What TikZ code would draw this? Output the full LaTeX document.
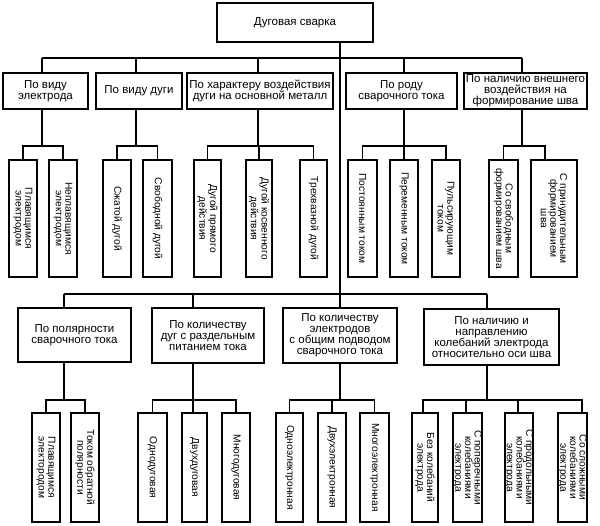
\documentclass[tikz,border=0pt]{standalone}
\usepackage{fontspec}
\setmainfont{Liberation Sans}
\begin{document}
\begin{tikzpicture}[x=1pt,y=-1pt,
  box/.style={draw, line width=1.6pt, inner xsep=0pt, inner ysep=-2pt, align=center,
    font=\fontsize{11.5}{11}\selectfont},
  vbox/.style={box, rotate=-90, inner ysep=-6pt, font=\fontsize{10.2}{9.6}\selectfont},
  conn/.style={line width=1.6pt}]
\useasboundingbox (0,0) rectangle (600,526);
% root
\node[box, minimum width=156pt, minimum height=39pt] (main) at (295,22.5) {Дуговая сварка};
% first level
\node[box, minimum width=85pt, minimum height=36pt] (k1) at (45.5,91) {По виду\\электрода};
\node[box, minimum width=86pt, minimum height=36pt] (k2) at (139,91) {По виду дуги};
\node[box, minimum width=146pt, minimum height=36pt] (k3) at (260,91) {По характеру воздействия\\дуги на основной металл};
\node[box, minimum width=111pt, minimum height=36pt] (k4) at (401.5,91) {По роду\\сварочного тока};
\node[box, minimum width=123pt, minimum height=36pt] (k5) at (525.5,91) {По наличию внешнего\\воздействия на\\формирование шва};
% second level top
\node[vbox, minimum width=117pt, minimum height=28pt] (s1a) at (23,218.5) {Плавящимся\\электродом};
\node[vbox, minimum width=117pt, minimum height=28pt] (s1b) at (63,218.5) {Неплавящимся\\электродом};
\node[vbox, minimum width=117pt, minimum height=28pt] (s2a) at (117,218.5) {Сжатой дугой};
\node[vbox, minimum width=117pt, minimum height=29pt] (s2b) at (157.5,218.5) {Свободной дугой};
\node[vbox, minimum width=117pt, minimum height=27pt] (s3a) at (207.5,218.5) {Дугой прямого\\действия};
\node[vbox, minimum width=117pt, minimum height=26pt] (s3b) at (259,218.5) {Дугой косвенного\\действия};
\node[vbox, minimum width=117pt, minimum height=27pt] (s3c) at (313.5,218.5) {Трехвазной дугой};
\node[vbox, minimum width=117pt, minimum height=29pt] (s4a) at (362.5,218.5) {Постоянным током};
\node[vbox, minimum width=117pt, minimum height=28pt] (s4b) at (404,218.5) {Переменным током};
\node[vbox, minimum width=117pt, minimum height=28pt] (s4c) at (446,218.5) {Пульсирующим\\током};
\node[vbox, minimum width=117pt, minimum height=29pt] (s5a) at (503.5,218.5) {Со свободным\\формированием шва};
\node[vbox, minimum width=117pt, minimum height=46pt] (s5b) at (554,218.5) {С принудительным\\формированием\\шва};
% first level lower
\node[box, minimum width=113pt, minimum height=54pt] (B1) at (74.5,335) {По полярности\\сварочного тока};
\node[box, minimum width=112pt, minimum height=55pt] (B2) at (208,335.5) {По количеству\\дуг с раздельным\\питанием тока};
\node[box, minimum width=114pt, minimum height=55pt] (B3) at (340,335.5) {По количеству\\электродов\\с общим подводом\\сварочного тока};
\node[box, minimum width=135pt, minimum height=56pt] (B4) at (491.5,337) {По наличию и\\направлению\\колебаний электрода\\относительно оси шва};
% second level lower
\node[vbox, minimum width=109pt, minimum height=28pt] (t1a) at (46,467.5) {Плавящимся\\электородом};
\node[vbox, minimum width=109pt, minimum height=28pt] (t1b) at (85,467.5) {Током обратной\\полярности};
\node[vbox, minimum width=109pt, minimum height=29pt] (t2a) at (152.5,467.5) {Однодуговая};
\node[vbox, minimum width=109pt, minimum height=25pt] (t2b) at (194.5,467.5) {Двухдуговая};
\node[vbox, minimum width=109pt, minimum height=28pt] (t2c) at (236,467.5) {Многодуговая};
\node[vbox, minimum width=109pt, minimum height=27pt] (t3a) at (289.5,467.5) {Одноэлектронная};
\node[vbox, minimum width=109pt, minimum height=28pt] (t3b) at (332,467.5) {Двухэлектронная};
\node[vbox, minimum width=109pt, minimum height=29pt] (t3c) at (374.5,467.5) {Многоэлектронная};
\node[vbox, minimum width=109pt, minimum height=26pt] (t4a) at (425,467.5) {Без колебаний\\электрода};
\node[vbox, minimum width=109pt, minimum height=29pt] (t4b) at (467.5,467.5) {С поперечными\\колебаниями\\электрода};
\node[vbox, minimum width=109pt, minimum height=28pt] (t4c) at (519,467.5) {С продольными\\колебаниями\\электрода};
\node[vbox, minimum width=109pt, minimum height=29pt] (t4d) at (572.5,467.5) {Со сложными\\колебаниями\\электрода};
% bus coordinates
\coordinate (bus1) at (0,58);
\coordinate (busS) at (0,146);
\coordinate (bus2) at (0,294);
\coordinate (busT) at (0,400);
% trunk
\draw[conn] (main.south -| B3.north) -- (B3.north);
% top bus
\draw[conn] ([xshift=-3.5pt]k1.north |- bus1) -- ([xshift=-3.5pt]k5.north |- bus1);
\draw[conn] ([xshift=-3.5pt]k1.north) -- ([xshift=-3.5pt]k1.north |- bus1);
\draw[conn] ([xshift=-3pt]k2.north) -- ([xshift=-3pt]k2.north |- bus1);
\draw[conn] ([xshift=-2pt]k3.north) -- ([xshift=-2pt]k3.north |- bus1);
\draw[conn] ([xshift=2.5pt]k4.north) -- ([xshift=2.5pt]k4.north |- bus1);
\draw[conn] ([xshift=-3.5pt]k5.north) -- ([xshift=-3.5pt]k5.north |- bus1);
% group 1
\draw[conn] ([xshift=-3.5pt]k1.south) -- ([xshift=-3.5pt]k1.south |- busS);
\draw[conn] (s1a.west) |- (s1b.west |- busS) -- (s1b.west);
% group 2
\draw[conn] ([xshift=-3pt]k2.south) -- ([xshift=-3pt]k2.south |- busS);
\draw[conn] (s2a.west) |- (s2b.west |- busS) -- (s2b.west);
% group 3
\draw[conn] ([xshift=-2pt]k3.south) -- ([xshift=-2pt]k3.south |- busS);
\draw[conn] (s3a.west) |- (s3c.west |- busS) -- (s3c.west);
\draw[conn] (s3b.west) -- (s3b.west |- busS);
% group 4
\draw[conn] ([xshift=2.5pt]k4.south) -- ([xshift=2.5pt]k4.south |- busS);
\draw[conn] (s4a.west) |- (s4c.west |- busS) -- (s4c.west);
\draw[conn] (s4b.west) -- (s4b.west |- busS);
% group 5
\draw[conn] ([xshift=-3.5pt]k5.south) -- ([xshift=-3.5pt]k5.south |- busS);
\draw[conn] (s5a.west) |- ([xshift=-9pt]s5b.west |- busS) -- ([xshift=-9pt]s5b.west);
% lower bus
\draw[conn] ([xshift=-10.5pt]B1.north |- bus2) -- ([xshift=-4.5pt]B4.north |- bus2);
\draw[conn] ([xshift=-10.5pt]B1.north) -- ([xshift=-10.5pt]B1.north |- bus2);
\draw[conn] ([xshift=-15pt]B2.north) -- ([xshift=-15pt]B2.north |- bus2);
\draw[conn] ([xshift=-4.5pt]B4.north) -- ([xshift=-4.5pt]B4.north |- bus2);
% lower group 1
\draw[conn] ([xshift=-10.5pt]B1.south) -- ([xshift=-10.5pt]B1.south |- busT);
\draw[conn] (t1a.west) |- (t1b.west |- busT) -- (t1b.west);
% lower group 2
\draw[conn] ([xshift=-15pt]B2.south) -- ([xshift=-15pt]B2.south |- busT);
\draw[conn] (t2a.west) |- (t2c.west |- busT) -- (t2c.west);
\draw[conn] ([xshift=-1.5pt]t2b.west) -- ([xshift=-1.5pt]t2b.west |- busT);
% lower group 3
\draw[conn] (B3.south) -- (B3.south |- busT);
\draw[conn] (t3a.west) |- (t3c.west |- busT) -- (t3c.west);
\draw[conn] (t3b.west) -- (t3b.west |- busT);
% lower group 4
\draw[conn] ([xshift=-4.5pt]B4.south) -- ([xshift=-4.5pt]B4.south |- busT);
\draw[conn] ([xshift=-2pt]t4a.west) |- ([xshift=9.5pt]t4d.west |- busT) -- ([xshift=9.5pt]t4d.west);
\draw[conn] ([xshift=-1.5pt]t4b.west) -- ([xshift=-1.5pt]t4b.west |- busT);
\draw[conn] ([xshift=-1pt]t4c.west) -- ([xshift=-1pt]t4c.west |- busT);
\end{tikzpicture}
\end{document}
